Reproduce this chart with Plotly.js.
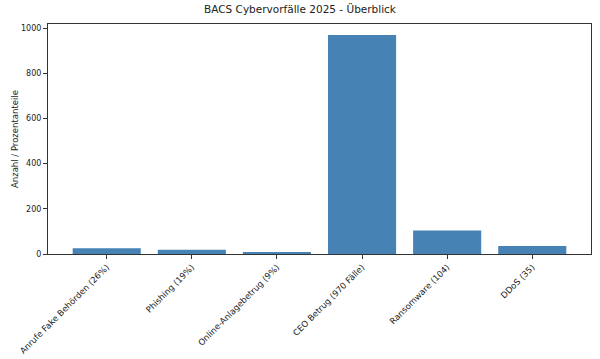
<!DOCTYPE html>
<html>
<head>
<meta charset="utf-8">
<script src="https://cdn.plot.ly/plotly-3.0.1.min.js"></script>
<style>html,body{margin:0;padding:0;background:#fff;}#chart{width:600px;height:359px;}</style>
</head>
<body>
<div id="chart"></div>
<script>
const categories = ["Anrufe Fake Behörden (26%)", "Phishing (19%)", "Online-Anlagebetrug (9%)", "CEO Betrug (970 Fälle)", "Ransomware (104)", "DDoS (35)"];
const values = [26, 19, 9, 970, 104, 35];
const yTicks = [0, 200, 400, 600, 800, 1000];

const trace = {
  type: "bar",
  x: categories.map((_, i) => i),
  y: values,
  width: 0.8,
  marker: {color: "#4682b4"},
  hoverinfo: "x+y"
};

const axisStyle = {
  showline: true, mirror: true, linecolor: "#333", linewidth: 1,
  ticks: "outside", ticklen: 4, tickcolor: "#333", showgrid: false, zeroline: false,
  tickfont: {family: "DejaVu Sans", size: 8, color: "#222"}
};

const layout = {
  width: 600, height: 359,
  margin: {l: 48, r: 9, t: 24, b: 105},
  paper_bgcolor: "#fff", plot_bgcolor: "#fff",
  title: {text: "BACS Cybervorfälle 2025 - Überblick", font: {family: "DejaVu Sans", size: 10.5, color: "#222"}, x: 0.5, xanchor: "center", y: 0.985, yanchor: "top"},
  xaxis: Object.assign({}, axisStyle, {
    tickmode: "array", tickvals: categories.map((_, i) => i), ticktext: categories,
    tickangle: -45, range: [-0.69, 5.69],
    tickfont: {family: "DejaVu Sans", size: 8.5, color: "#222"}
  }),
  yaxis: Object.assign({}, axisStyle, {
    tickmode: "array", tickvals: yTicks, ticktext: yTicks.map(String),
    range: [0, 1018.5]
  }),
  annotations: [{
    text: "Anzahl / Prozentanteile", xref: "paper", yref: "paper", x: 0, y: 0.5,
    xanchor: "center", yanchor: "middle", xshift: -33, textangle: -90, showarrow: false,
    font: {family: "DejaVu Sans", size: 8.5, color: "#222"}
  }],
  showlegend: false
};

Plotly.newPlot("chart", [trace], layout, {displayModeBar: false, staticPlot: true});
</script>
</body>
</html>
